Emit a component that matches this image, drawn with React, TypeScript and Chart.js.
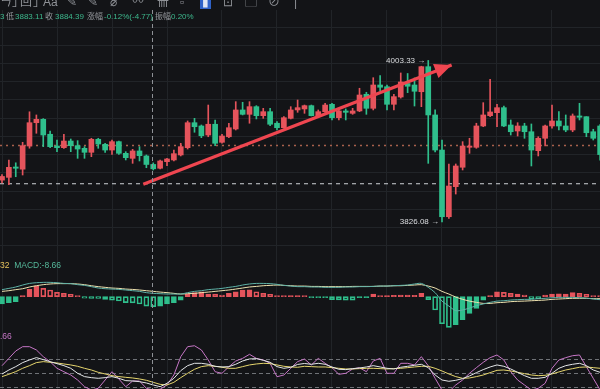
import React, { useEffect, useRef } from "react";
import { Chart, registerables } from "chart.js";

Chart.register(...registerables);

// ---------- data ----------
const OPEN = [
  3872, 3875, 3886.4, 3884, 3909.4, 3935, 3938.7, 3922.3, 3909.4, 3907.6,
  3914.9, 3909.8, 3906.9, 3902.5, 3916.8, 3911.3, 3905, 3914.2, 3901.4, 3895.9,
  3904, 3898.5, 3889.2, 3885, 3892.2, 3894.1, 3899.6, 3907.6, 3935, 3931.4,
  3921.5, 3933.3, 3913.5, 3919.6, 3928.1, 3949, 3944.2, 3952.6, 3942.7, 3947.1,
  3934.4, 3929.5, 3939.8, 3949, 3950.1, 3953.7, 3942.7, 3947.1, 3955.2, 3940.5,
  3947.9, 3945.3, 3947.9, 3966.2, 3950.8, 3976.4, 3974.5, 3955.2, 3963.2, 3978,
  3976.4, 3969, 3996.5, 3943.5, 3905, 3831.8, 3864.8, 3886.1, 3908, 3908,
  3931.4, 3942.7, 3946, 3951.5, 3932.5, 3925.9, 3931.4, 3925.1, 3904.3, 3917.9,
  3931.4, 3936.9, 3931.4, 3927, 3942.4, 3941.6, 3925.1, 3931.4,
];
const HIGH = [
  3878, 3894, 3891, 3913.5, 3947, 3943.5, 3939.5, 3925.9, 3916, 3922.3,
  3917.1, 3915.3, 3908.7, 3917.9, 3917.9, 3912.4, 3916, 3914.9, 3903.2, 3905.8,
  3908.7, 3899.6, 3890.9, 3894.1, 3896, 3905, 3912.4, 3936.9, 3939.8, 3932.5,
  3954.4, 3938, 3922.3, 3934.4, 3958.1, 3957.4, 3958.1, 3953.7, 3950.8, 3950.8,
  3936.1, 3941.6, 3952.6, 3959.9, 3954.4, 3954.4, 3949, 3956.3, 3956.3, 3950.1,
  3950.1, 3950.8, 3972.8, 3968.4, 3984.4, 3986.6, 3976.4, 3966.2, 3989.6, 3989,
  3984.1, 3997, 4003.33, 3949, 3916, 3889.7, 3889.7, 3914.2, 3917.9, 3934.4,
  3957, 3982.7, 3955.2, 3953.3, 3938, 3935, 3934.4, 3933.6, 3919.6, 3932.5,
  3954.4, 3947.1, 3943.5, 3944.6, 3956.3, 3941.6, 3927.8, 3933,
];
const LOW = [
  3869, 3867, 3875.7, 3877.6, 3907, 3923.4, 3908.7, 3907.6, 3903.2, 3906.9,
  3903.2, 3895.9, 3895.9, 3897.7, 3906.9, 3902.5, 3900.3, 3900.3, 3894.1, 3890.4,
  3893, 3885.6, 3883.11, 3884.2, 3887.8, 3893, 3898.5, 3906.1, 3924.5, 3918.6,
  3919.6, 3909.8, 3912.4, 3918.6, 3927, 3943.5, 3934.4, 3939.1, 3939.8, 3931.7,
  3927, 3928.9, 3939.1, 3946.4, 3945.3, 3942.4, 3941.6, 3946.4, 3938, 3938,
  3938, 3944.2, 3947.1, 3944.2, 3949, 3969.8, 3949, 3949, 3962, 3968,
  3953.3, 3952.6, 3890.4, 3902.9, 3826.08, 3830, 3856.7, 3883.1, 3901.4, 3906.9,
  3930.6, 3941.6, 3930.6, 3930.6, 3921.5, 3920.4, 3917.9, 3887.5, 3898.5, 3909.4,
  3928.9, 3927, 3925.1, 3925.1, 3938, 3919.6, 3916, 3894,
];
const CLOSE = [
  3876, 3886, 3885, 3909.8, 3935, 3938.7, 3921.5, 3908.7, 3907.6, 3914.9,
  3909.8, 3906.1, 3902.5, 3916.8, 3911.6, 3905, 3914.2, 3901.4, 3896.6, 3904,
  3898.8, 3889.16, 3884.39, 3893, 3895.2, 3901, 3908.7, 3935, 3930.6, 3920.7,
  3933.3, 3912.4, 3920.4, 3929.5, 3949, 3944.2, 3952.6, 3942.7, 3947.1, 3933.3,
  3929.5, 3940.5, 3949, 3951.5, 3953.7, 3942.7, 3947.1, 3954.4, 3940.5, 3947.9,
  3946.4, 3947.9, 3965.4, 3950.8, 3976.4, 3973.9, 3955.2, 3963.6, 3979.7, 3975,
  3969.5, 3996.5, 3943.5, 3905, 3831.8, 3865.5, 3887.5, 3909.4, 3909.4, 3931.4,
  3943.5, 3946.8, 3951.5, 3931.4, 3925.1, 3931.4, 3925.1, 3905, 3917.9, 3931.4,
  3936.9, 3931.4, 3927, 3942.4, 3941, 3924, 3917.9, 3900,
];

const MACD_HIST = [
  -6.3, -5.2, -4.3, 0.9, 6.3, 9.3, 7.2, 5.8, 3.7, 2.9,
  2.0, 0.6, -1.3, -1.4, -1.5, -2.3, -2.9, -3.7, -5.2, -5.3,
  -6.3, -8.1, -8.66, -8.1, -6.3, -5.2, -2.9, 2.3, 3.5, 4.3,
  2.3, 2.2, 1.5, 2.9, 4.3, 5.8, 6.0, 4.3, 2.9, 2.0,
  0.9, 0.5, 0.6, 0.6, 0.1, -0.2, -0.3, -0.5, -2.6, -2.8,
  -2.9, -3.0, -0.6, -0.5, 2.3, 0.9, 0.9, 1.1, 1.5, 1.5,
  1.2, 2.9, -2.6, -11.5, -23.4, -26.6, -24.2, -19.9, -14.5, -10.1,
  -2.9, 0.9, 4.3, 3.7, 2.9, 2.3, 1.5, -1.7, -1.8, 1.5,
  2.3, 2.4, 2.3, 3.5, 2.9, 2.0, 0.9, 0.6,
];
const DIF = [
  6.1, 7.2, 8.4, 10.1, 11.5, 12.1, 12.4, 12.4, 12.1, 11.5,
  11.3, 10.4, 9.8, 8.7, 7.5, 6.9, 6.6, 6.3, 5.8, 5.2,
  4.6, 3.5, 2.9, 2.6, 2.3, 2.3, 2.3, 3.5, 4.6, 5.2,
  6.1, 6.6, 7.2, 8.1, 8.9, 10.1, 11, 11.5, 11.5, 11.3,
  10.7, 9.8, 9.2, 8.7, 8.7, 8.4, 8.4, 8.1, 8.1, 8.1,
  8.4, 8.4, 8.7, 8.7, 8.9, 9.2, 9.2, 9.5, 9.8, 10.1,
  11, 11.5, 8.1, 3.5, -3.8, -8.1, -12.1, -11.5, -9.8, -7.8,
  -6.3, -4.9, -3.8, -3.5, -2.9, -2.6, -2.3, -2.3, -1.7, -1.4,
  -0.9, -0.6, -0.6, -0.6, -0.9, -1.2, -2, -2.6,
];
const DEA = [
  4.6, 5.2, 6.1, 6.9, 8.4, 9.5, 10.4, 11, 11.3, 11.3,
  11.3, 11, 10.4, 9.5, 8.7, 8.1, 7.5, 7.2, 6.6, 6.3,
  5.8, 5.2, 4.6, 4, 3.5, 2.9, 2.3, 2.6, 2.9, 3.5,
  4, 4.6, 5.2, 5.8, 6.6, 7.5, 8.4, 8.9, 9.5, 9.8,
  10.1, 9.8, 9.5, 9.2, 9.2, 8.9, 8.9, 8.7, 8.7, 8.7,
  8.7, 8.9, 8.9, 8.9, 8.9, 9.2, 9.2, 9.5, 9.5, 9.8,
  10.1, 10.4, 9.2, 7.5, 4.6, 2.3, -0.3, -2.3, -3.8, -4.9,
  -5.8, -5.8, -5.2, -4.9, -4.3, -4, -3.8, -3.5, -3.2, -2.9,
  -2.3, -2, -1.7, -1.4, -1.4, -1.4, -1.7, -1.7,
];
const KDJ_K = [
  48.6, 57.1, 64.3, 72.9, 78.6, 83.6, 79.3, 75, 70.7, 66.4,
  60.7, 50, 42.9, 40.7, 39.3, 40.7, 42.9, 39.3, 34.3, 33.6,
  32.1, 29.3, 25, 21.4, 28.6, 39.3, 55.7, 66.4, 71.4, 71.4,
  69.3, 65, 63.6, 64.3, 69.3, 76.4, 80.7, 81.4, 77.9, 73.6,
  64.3, 60.7, 62.9, 69, 71, 69.3, 71.4, 69.3, 63.6, 58.6,
  57.9, 60, 61.4, 63.6, 66.4, 63.6, 60.7, 59.3, 62.9, 65,
  67.1, 69.3, 62.1, 46.4, 35.7, 32.9, 35, 38.6, 44.3, 51.4,
  57.9, 63.6, 67.9, 65, 59.3, 52.1, 45, 39.3, 39.3, 41.4,
  50, 60.7, 66.4, 69.3, 71.4, 66.4, 57.1, 52.1,
];
const KDJ_D = [
  42.9, 47.9, 53.6, 60.7, 66.4, 72.9, 75, 73.6, 72.1, 70,
  67.9, 65, 60.7, 57.1, 52.1, 48.6, 45, 42.9, 41.4, 40,
  37.9, 35, 30.7, 26.4, 25, 30.7, 40.7, 50, 58.6, 64.3,
  66.4, 65, 62.9, 60.7, 60.7, 64.3, 67.9, 70, 71.4, 70.7,
  67.9, 65, 63.6, 62.9, 65, 64.3, 63.6, 63.6, 62.1, 60.7,
  59.3, 59.3, 60, 60.7, 60.7, 60, 59.3, 60, 60.7, 62.1,
  63.6, 65, 65, 60.7, 55, 48.6, 42.9, 39.3, 40, 42.9,
  46.4, 51.4, 56.4, 57.1, 55, 52.1, 49.3, 46.4, 45, 45.7,
  48.6, 52.9, 57.1, 60, 62.9, 63.6, 62.1, 60.7,
];
const KDJ_J = [
  66.3, 82, 97.8, 107, 107, 100, 85.6, 74.8, 60.7, 53.4,
  46.4, 35.7, 21.3, 14.2, 17.9, 35.7, 53.4, 37.8, 21.3, 33.5,
  33.5, 17.9, 14.2, 16, 25, 46.4, 85.6, 107, 109, 100,
  78.5, 53.4, 50, 64.1, 76.3, 82, 90.6, 82, 78.5, 71.4,
  42.7, 46.4, 60.7, 75, 80.6, 67.8, 82, 71.4, 62, 47.9,
  50, 59.2, 62, 53.4, 76.3, 82, 50, 50, 71.4, 71.4,
  67.8, 85.6, 66.3, 39.3, 14.2, 10.6, 25, 35.7, 50, 62,
  73.5, 83.5, 89.2, 78.5, 53.4, 35.7, 25, 14.2, 17.9, 28.6,
  60.7, 78.5, 83.5, 87.7, 89.2, 64.1, 39.3, 14.2,
];

const PRICE_GRID = [3800, 3820, 3840, 3860, 3880, 3900, 3920, 3940, 3960, 3980, 4000, 4020, 4040];
const TIME_GRID = [0, 8, 16, 24, 32, 40, 48, 56, 64, 72, 80];
const KDJ_LEVELS = [20, 50, 80];
const LAST_PRICE_LEVEL = 3910;
const CROSS_PRICE = 3868;
const CROSS_INDEX = 22;
const ARROW_FROM = { x: 20.55, y: 3867.4 };
const ARROW_TO = { x: 65.4, y: 3998.4 };

// axis windows
const X_MIN = -0.291;
const X_MAX = 86.982;
const PRICE_MIN = 3786.5;
const PRICE_MAX = 4058.7;
const MACD_MIN = -27.1;
const MACD_MAX = 33.5;
const KDJ_MIN = 16.4;
const KDJ_MAX = 147;

// ---------- style ----------
const BG = "#131417";
const GRID = "#212428";
const RED = "#e5545c";
const GREEN = "#2fbf8c";
const ARROW_COLOR = "#ef4650";
const TEXT_GREEN = "#3db88d";
const TEXT_GRAY = "#979a9f";
const FONT = '"Liberation Sans", Arial, "Noto Sans CJK SC", sans-serif';

const overlayPlugin = {
  id: "overlay",
  afterDatasetsDraw(chart: any) {
    const { ctx, chartArea, scales } = chart;
    const xs = scales.x;
    const ys = scales.y;
    ctx.save();
    // vertical crosshair
    const cx = Math.round(xs.getPixelForValue(CROSS_INDEX)) - 0.5;
    ctx.strokeStyle = "#8e9196";
    ctx.lineWidth = 1;
    ctx.setLineDash([4, 3]);
    ctx.beginPath();
    ctx.moveTo(cx, chartArea.top);
    ctx.lineTo(cx, chartArea.bottom);
    ctx.stroke();
    ctx.setLineDash([]);

    // arrow head
    const x1 = xs.getPixelForValue(ARROW_FROM.x);
    const y1 = ys.getPixelForValue(ARROW_FROM.y);
    const x2 = xs.getPixelForValue(ARROW_TO.x);
    const y2 = ys.getPixelForValue(ARROW_TO.y);
    const a = Math.atan2(y2 - y1, x2 - x1);
    const L = 17;
    const W = 7.5;
    const bx = x2 - L * Math.cos(a);
    const by = y2 - L * Math.sin(a);
    ctx.fillStyle = ARROW_COLOR;
    ctx.beginPath();
    ctx.moveTo(x2, y2);
    ctx.lineTo(bx + W * Math.sin(a), by - W * Math.cos(a));
    ctx.lineTo(bx - W * Math.sin(a), by + W * Math.cos(a));
    ctx.closePath();
    ctx.fill();

    // high / low tags
    let hi = 0;
    let lo = 0;
    HIGH.forEach((v, i) => { if (v > HIGH[hi]) hi = i; });
    LOW.forEach((v, i) => { if (v < LOW[lo]) lo = i; });
    ctx.font = `8px ${FONT}`;
    ctx.fillStyle = "#dcdee1";
    ctx.textAlign = "right";
    ctx.textBaseline = "middle";
    ctx.fillText(HIGH[hi].toFixed(2) + " →", xs.getPixelForValue(hi) - 3, ys.getPixelForValue(HIGH[hi]));
    ctx.fillText(LOW[lo].toFixed(2) + " →", xs.getPixelForValue(lo) - 3, ys.getPixelForValue(LOW[lo]));
    ctx.restore();
  },
};

const hiddenAxis = {
  type: "linear" as const,
  position: "left" as const,
  stack: "panels",
  ticks: { display: false },
  border: { display: false },
};

export default function App() {
  const ref = useRef<HTMLCanvasElement>(null);

  useEffect(() => {
    const canvas = ref.current;
    if (!canvas) return;
    const idx = CLOSE.map((_, i) => i);
    const candleColor = (i: number) => (CLOSE[i] >= OPEN[i] ? RED : GREEN);
    const histColor = (i: number) => (MACD_HIST[i] >= 0 ? RED : GREEN);
    const histFilled = (i: number) => i === 0 || MACD_HIST[i] >= MACD_HIST[i - 1];

    const chart = new Chart(canvas, {
      type: "bar",
      data: {
        datasets: [
          {
            type: "line",
            yAxisID: "y",
            data: [ARROW_FROM, ARROW_TO],
            borderColor: ARROW_COLOR,
            borderWidth: 3.2,
            pointRadius: 0,
            order: 0,
          },
          {
            type: "bar",
            yAxisID: "y",
            data: idx.map((i) => ({ x: i, y: [OPEN[i], CLOSE[i]] })),
            backgroundColor: (c: any) => candleColor(c.dataIndex),
            barThickness: 5,
            minBarLength: 1,
            grouped: false,
            order: 1,
          },
          {
            type: "bar",
            yAxisID: "y",
            data: idx.map((i) => ({ x: i, y: [LOW[i], HIGH[i]] })),
            backgroundColor: (c: any) => candleColor(c.dataIndex),
            barThickness: 1,
            grouped: false,
            order: 2,
          },
          {
            type: "line",
            yAxisID: "y",
            data: [{ x: X_MIN, y: LAST_PRICE_LEVEL }, { x: X_MAX, y: LAST_PRICE_LEVEL }],
            borderColor: "#a8604c",
            borderWidth: 1.3,
            borderDash: [2, 4],
            pointRadius: 0,
            order: 6,
          },
          {
            type: "line",
            yAxisID: "y",
            data: [{ x: X_MIN, y: CROSS_PRICE }, { x: X_MAX, y: CROSS_PRICE }],
            borderColor: "#cfd2d6",
            borderWidth: 1,
            borderDash: [4, 4],
            pointRadius: 0,
            order: 6,
          },
          {
            type: "bar",
            yAxisID: "yMacd",
            data: idx.map((i) => ({ x: i, y: MACD_HIST[i] })),
            backgroundColor: (c: any) => (histFilled(c.dataIndex) ? histColor(c.dataIndex) : "rgba(0,0,0,0)"),
            borderColor: (c: any) => histColor(c.dataIndex),
            borderWidth: 1,
            borderSkipped: false,
            barThickness: 5,
            minBarLength: 1,
            grouped: false,
            order: 4,
          },
          {
            type: "line",
            yAxisID: "yMacd",
            data: idx.map((i) => ({ x: i, y: DIF[i] })),
            borderColor: "#5fb3a8",
            borderWidth: 1,
            pointRadius: 0,
            tension: 0.3,
            order: 3,
          },
          {
            type: "line",
            yAxisID: "yMacd",
            data: idx.map((i) => ({ x: i, y: DEA[i] })),
            borderColor: "#efe3b0",
            borderWidth: 1,
            pointRadius: 0,
            tension: 0.3,
            order: 3,
          },
          {
            type: "line",
            yAxisID: "yKdj",
            data: idx.map((i) => ({ x: i, y: KDJ_J[i] })),
            borderColor: "#c676c6",
            borderWidth: 1,
            pointRadius: 0,
            tension: 0,
            order: 3,
          },
          {
            type: "line",
            yAxisID: "yKdj",
            data: idx.map((i) => ({ x: i, y: KDJ_K[i] })),
            borderColor: "#e4e6e8",
            borderWidth: 1,
            pointRadius: 0,
            tension: 0,
            order: 2,
          },
          {
            type: "line",
            yAxisID: "yKdj",
            data: idx.map((i) => ({ x: i, y: KDJ_D[i] })),
            borderColor: "#e6d66e",
            borderWidth: 1,
            pointRadius: 0,
            tension: 0,
            order: 2,
          },
        ] as any,
      },
      options: {
        responsive: false,
        animation: false,
        devicePixelRatio: 1,
        events: [],
        layout: { padding: { top: 10, left: 0, right: 0, bottom: 0 } },
        plugins: { legend: { display: false }, tooltip: { enabled: false } },
        scales: {
          x: {
            type: "linear",
            min: X_MIN,
            max: X_MAX,
            offset: false,
            ticks: { display: false },
            border: { display: false },
            grid: { color: GRID, drawTicks: false, offset: false },
            afterBuildTicks: (axis: any) => {
              axis.ticks = TIME_GRID.map((v) => ({ value: v }));
            },
          },
          y: {
            ...hiddenAxis,
            stackWeight: 248,
            weight: 3,
            min: PRICE_MIN,
            max: PRICE_MAX,
            grid: { color: GRID, drawTicks: false },
            afterBuildTicks: (axis: any) => {
              axis.ticks = PRICE_GRID.map((v) => ({ value: v }));
            },
          },
          yMacd: {
            ...hiddenAxis,
            stackWeight: 70,
            weight: 2,
            min: MACD_MIN,
            max: MACD_MAX,
            grid: { display: false, drawTicks: false },
          },
          yKdj: {
            ...hiddenAxis,
            stackWeight: 61,
            weight: 1,
            min: KDJ_MIN,
            max: KDJ_MAX,
            border: { display: false, dash: [4, 3] },
            grid: { color: "#6f7277", drawTicks: false },
            afterBuildTicks: (axis: any) => {
              axis.ticks = KDJ_LEVELS.map((v) => ({ value: v }));
            },
          },
        } as any,
      },
      plugins: [overlayPlugin],
    });
    return () => chart.destroy();
  }, []);

  const toolbar: [string, number, boolean?][] = [
    ["ㄣ」", 0], ["回", 20], ["」", 33], ["Aa", 43], ["✎", 67], ["✎", 88],
    ["⌀", 110], ["〰", 132], ["卌", 157], ["▫", 180], ["▮", 200, true],
    ["⊡", 223], ["▢", 245], ["⊘", 268], ["|", 294],
  ];
  const info: [string, number, string][] = [
    ["3", 0, TEXT_GREEN], ["低", 6, TEXT_GRAY], ["3883.11", 15, TEXT_GREEN],
    ["收", 45, TEXT_GRAY], ["3884.39", 55, TEXT_GREEN], ["涨幅", 87, TEXT_GRAY],
    ["-0.12%(-4.77)", 104, TEXT_GREEN], ["振幅", 155, TEXT_GRAY], ["0.20%", 171, TEXT_GREEN],
  ];

  return (
    <div
      style={{
        position: "fixed", left: 0, top: 0, width: 600, height: 389,
        background: BG, overflow: "hidden", fontFamily: FONT,
      }}
    >
      <canvas ref={ref} width={600} height={389} style={{ position: "absolute", left: 0, top: 0 }} />
      {toolbar.map(([t, x, hl], i) => (
        <div
          key={"tb" + i}
          style={{
            position: "absolute", left: x, top: -5, height: 14, lineHeight: "14px",
            fontSize: 12, color: hl ? "#dfe6f5" : "#8f9297",
            background: hl ? "#2f62c8" : "transparent", padding: hl ? "0 2px" : 0,
          }}
        >
          {t}
        </div>
      ))}
      {info.map(([t, x, c], i) => (
        <div
          key={"in" + i}
          style={{
            position: "absolute", left: x, top: 12, fontSize: 8, lineHeight: "10px",
            color: c, whiteSpace: "pre",
          }}
        >
          {t}
        </div>
      ))}
      <div style={{ position: "absolute", left: 0, top: 260, fontSize: 8.5, lineHeight: "10px", whiteSpace: "pre" }}>
        <span style={{ color: "#e6c25c" }}>32</span>
        <span style={{ color: "#55b89a" }}>{"  MACD:-8.66"}</span>
      </div>
      <div style={{ position: "absolute", left: 0, top: 331, fontSize: 8.5, lineHeight: "10px", color: "#c676c6" }}>
        .66
      </div>
    </div>
  );
}
